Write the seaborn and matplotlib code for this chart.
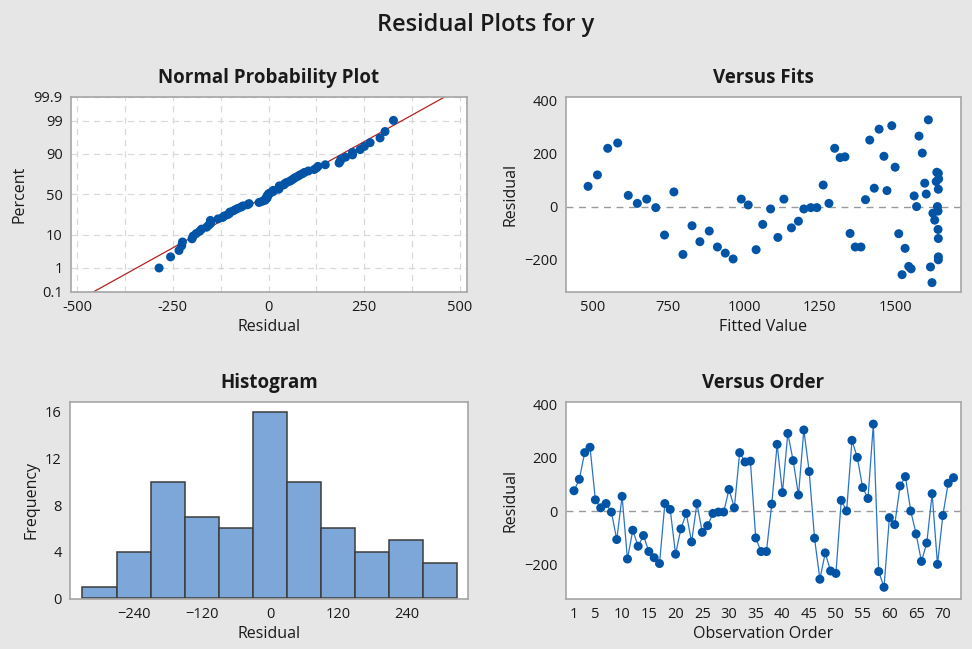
import numpy as np
import pandas as pd
import seaborn as sns
import matplotlib.pyplot as plt
from statistics import NormalDist

# ---------------- data ----------------
residuals = [76, 119, 219, 239, 42, 12, 28, -4, -107, 55,
             -180, -72, -132, -92, -152, -175, -197, 28, 6, -162,
             -67, -9, -116, 28, -80, -55, -9, -4, -4, 81,
             12, 219, 184, 187, -101, -152, -152, 26, 250, 69,
             291, 189, 60, 304, 148, -102, -256, -157, -225, -234,
             40, 0, 265, 201, 88, 47, 326, -227, -286, -25,
             -51, 94, 129, 0, -86, -189, -120, 65, -200, -17,
             104, 125]
fitted = [484, 515, 549, 582, 617, 647, 678, 708, 737, 768,
          798, 828, 854, 885, 912, 938, 964, 991, 1014, 1040,
          1062, 1088, 1112, 1132, 1157, 1180, 1198, 1221, 1241, 1262,
          1281, 1300, 1318, 1334, 1351, 1368, 1387, 1402, 1416, 1431,
          1447, 1463, 1473, 1489, 1500, 1512, 1523, 1533, 1545, 1553,
          1563, 1571, 1579, 1590, 1598, 1603, 1610, 1617, 1622, 1625,
          1631, 1636, 1638, 1640, 1642, 1643, 1643, 1643, 1643, 1642,
          1644, 1643]
order = list(range(1, len(residuals) + 1))
percent_ticks = [0.1, 1, 10, 50, 90, 99, 99.9]
percent_labels = ["0.1", "1", "10", "50", "90", "99", "99.9"]

# ---------------- style ----------------
sns.set_theme(style="white")
plt.rcParams['font.family'] = ['Open Sans', 'DejaVu Sans']
BG = '#e6e6e6'
SPINE = '#a6a6a6'
TXT = '#1a1a1a'
PT = '#0054a6'
LINE = '#2a74c8'

fig = plt.figure(figsize=(9.72, 6.49), dpi=100, facecolor=BG)
W, H = 972, 649


def box(l, t, r, b):
    return [l / W, 1 - b / H, (r - l) / W, (b - t) / H]


ax1 = fig.add_axes(box(71, 96.7, 467, 291.7))
ax2 = fig.add_axes(box(565.7, 96.7, 961, 291.7))
ax3 = fig.add_axes(box(70, 401.7, 467.7, 599))
ax4 = fig.add_axes(box(565.7, 401.7, 961, 599))


def style(ax, title, xlabel, ylabel):
    ax.set_facecolor('white')
    for s in ax.spines.values():
        s.set_color(SPINE)
        s.set_linewidth(1.2)
    ax.tick_params(axis='both', which='major', direction='out', length=4,
                   width=1, color=SPINE, labelsize=10.5, labelcolor=TXT, pad=2)
    ax.set_title(title, fontsize=13.5, fontweight='bold', color=TXT, pad=10)
    ax.set_xlabel(xlabel, fontsize=11.5, color=TXT, labelpad=3)
    ax.set_ylabel(ylabel, fontsize=11.5, color=TXT, labelpad=4)


# ---------------- Normal probability plot ----------------
nd = NormalDist()
n = len(residuals)
srt = np.sort(np.array(residuals, dtype=float))
pr = (np.arange(1, n + 1) - 0.3) / (n + 0.4)
z = np.array([nd.inv_cdf(p) for p in pr])
dfn = pd.DataFrame({'res': srt, 'z': z})
mu = np.mean(residuals)
sd = np.std(residuals, ddof=1)
zlo, zhi = nd.inv_cdf(0.001), nd.inv_cdf(0.999)
dfl = pd.DataFrame({'x': [mu + sd * zlo, mu + sd * zhi], 'z': [zlo, zhi]})

ax1.set_xticks([-375, -125, 125, 375], minor=True)
ax1.tick_params(axis='x', which='minor', length=0)
ax1.grid(True, which='both', linestyle=(0, (5, 4)), color='#d9d9d9', linewidth=0.9)
ax1.set_axisbelow(True)
sns.lineplot(data=dfl, x='x', y='z', ax=ax1, color='#b22222', linewidth=0.9)
sns.scatterplot(data=dfn, x='res', y='z', ax=ax1, color=PT, s=42,
                edgecolor='none', zorder=3)
ax1.set_xlim(-516, 518)
ax1.set_ylim(zlo, zhi)
ax1.set_xticks([-500, -250, 0, 250, 500])
ax1.set_xticklabels(['-500', '-250', '0', '250', '500'])
ax1.set_yticks([nd.inv_cdf(p / 100) for p in percent_ticks])
ax1.set_yticklabels(percent_labels)
style(ax1, 'Normal Probability Plot', 'Residual', 'Percent')

# ---------------- Versus fits ----------------
dff = pd.DataFrame({'fit': fitted, 'res': residuals})
ax2.axhline(0, color='#999999', linestyle=(0, (5, 4)), linewidth=1)
sns.scatterplot(data=dff, x='fit', y='res', ax=ax2, color=PT, s=42,
                edgecolor='none', zorder=3)
ax2.set_xlim(410, 1718)
ax2.set_ylim(-320, 413)
ax2.set_xticks([500, 750, 1000, 1250, 1500])
ax2.set_yticks([-200, 0, 200, 400])
style(ax2, 'Versus Fits', 'Fitted Value', 'Residual')

# ---------------- Histogram ----------------
dfh = pd.DataFrame({'res': residuals})
sns.histplot(data=dfh, x='res', ax=ax3, binwidth=60, binrange=(-330, 330),
             color='#7da7d9', edgecolor='#3c3c3c', linewidth=1.1, alpha=1)
ax3.set_xlim(-352, 348)
ax3.set_ylim(-0.05, 16.86)
ax3.set_xticks([-240, -120, 0, 120, 240])
ax3.set_yticks([0, 4, 8, 12, 16])
style(ax3, 'Histogram', 'Residual', 'Frequency')

# ---------------- Versus order ----------------
dfo = pd.DataFrame({'order': order, 'res': residuals})
ax4.axhline(0, color='#999999', linestyle=(0, (5, 4)), linewidth=1)
sns.lineplot(data=dfo, x='order', y='res', ax=ax4, color=LINE, linewidth=0.9)
sns.scatterplot(data=dfo, x='order', y='res', ax=ax4, color=PT, s=42,
                edgecolor='none', zorder=3)
ax4.set_xlim(-0.55, 73.4)
ax4.set_ylim(-330, 410)
ax4.set_xticks([1, 5, 10, 15, 20, 25, 30, 35, 40, 45, 50, 55, 60, 65, 70])
ax4.set_yticks([-200, 0, 200, 400])
style(ax4, 'Versus Order', 'Observation Order', 'Residual')

fig.text(0.5, 1 - 25 / H, 'Residual Plots for y', ha='center', va='center',
         fontsize=17, fontweight='semibold', color=TXT)

fig.savefig('out.png', dpi=100, facecolor=BG)
